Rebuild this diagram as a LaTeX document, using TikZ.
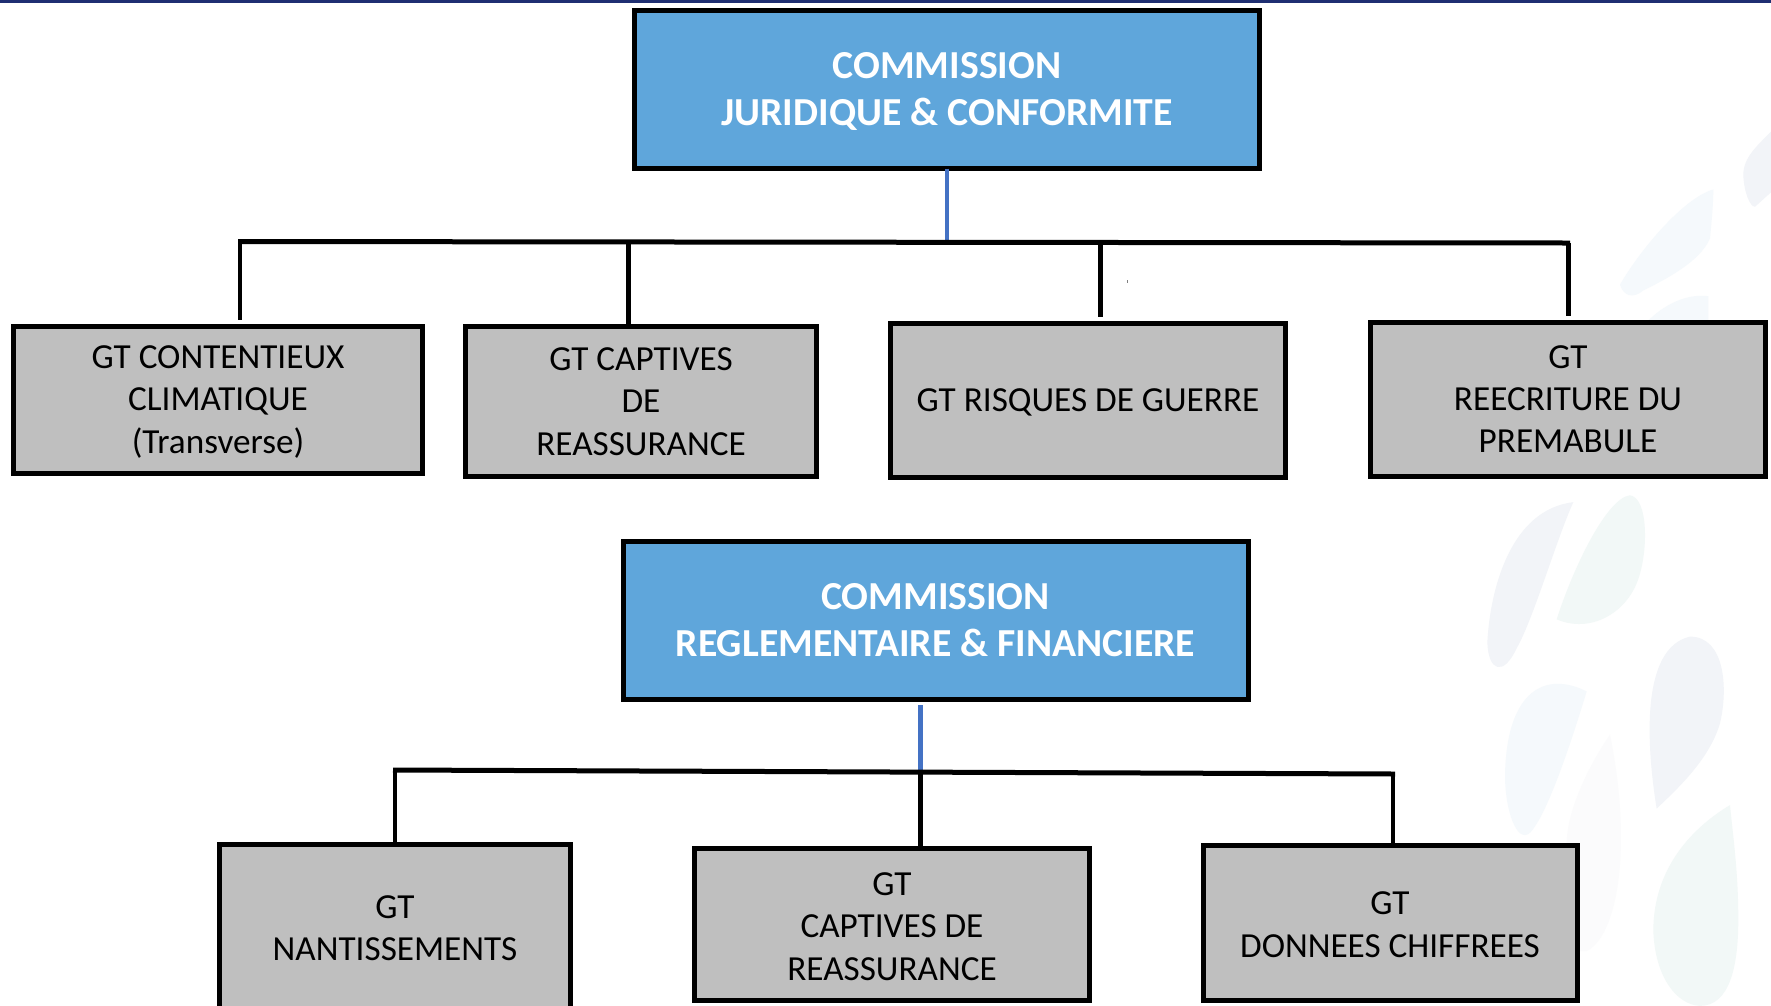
\documentclass[tikz,border=0pt]{standalone}
\usepackage{fontspec}
\setmainfont{Carlito}
\definecolor{commfill}{HTML}{5FA6DB}
\definecolor{gtfill}{HTML}{BFBFBF}
\definecolor{stemblue}{HTML}{4472C4}
\definecolor{barblue}{HTML}{1F2F72}
\definecolor{dropA}{HTML}{F2F4F8}
\definecolor{dropB}{HTML}{F2F8F7}
\definecolor{dropC}{HTML}{F5F9FC}
\definecolor{dropD}{HTML}{FBFBFC}
\def\textdy{0pt}
\newcommand{\tstrut}{\rule{0pt}{\dimexpr0.95em+2\dimexpr\textdy\relax\relax}}
\newcommand{\bstrut}{\rule[-0.3em]{0pt}{0.3em}}
\tikzset{
  tdy/.code={\def\textdy{#1}},
  commbox/.style={draw=black,fill=commfill,line width=5pt,rectangle,outer sep=0pt,inner sep=0pt,align=center,text=white,font=\fontsize{39.7}{47}\selectfont\bfseries},
  gtbox/.style={draw=black,fill=gtfill,line width=5pt,rectangle,outer sep=0pt,inner sep=0pt,align=center,text=black,font=\fontsize{35.2}{42.3}\selectfont},
  bus/.style={draw=black,line width=5pt},
  stemblack/.style={draw=black,line width=4.5pt},
  stem/.style={draw=stemblue,line width=4.5pt},
}
\begin{document}
\begin{tikzpicture}[x=1pt,y=-1pt]
\useasboundingbox (0,0) rectangle (1771,1005);
\clip (0,0) rectangle (1771,1005);
\fill[white] (0,0) rectangle (1771,1005);
\fill[barblue] (0,0) rectangle (1771,3);
% watermark drops
\begin{scope}[shift={(1400pt,-100pt)},x=0.3333pt,y=-0.577pt]
\fill[dropA] (1113,55) .. controls (1070,80) and (1030,100) .. (1030,130) .. controls (1032,160) and (1050,185) .. (1065,185) -- (1113,160) -- cycle;
\fill[dropC] (940,155) .. controls (850,170) and (720,260) .. (660,320) .. controls (670,340) and (700,345) .. (730,330) .. controls (800,310) and (900,280) .. (930,240) .. controls (935,210) and (940,180) .. (940,155) -- cycle;
\fill[dropC] (925,340) .. controls (860,335) and (790,355) .. (740,385) -- (925,385) -- cycle;
\fill[dropA] (520,697) .. controls (330,710) and (270,850) .. (262,940) .. controls (265,990) and (310,1000) .. (350,950) .. controls (400,900) and (470,760) .. (520,697) -- cycle;
\fill[dropB] (470,900) .. controls (520,810) and (620,690) .. (690,685) .. controls (745,690) and (745,780) .. (715,830) .. controls (680,890) and (570,925) .. (470,900) -- cycle;
\fill[dropD] (630,1100) .. controls (570,1150) and (500,1230) .. (500,1290) -- (500,1475) -- (560,1475) .. controls (650,1450) and (700,1300) .. (630,1100) -- cycle;
\fill[dropC] (560,1025) .. controls (440,990) and (320,1020) .. (315,1170) .. controls (315,1230) and (350,1290) .. (390,1270) .. controls (440,1240) and (510,1120) .. (560,1025) -- cycle;
\fill[dropA] (770,1228) .. controls (740,1120) and (720,950) .. (870,930) .. controls (975,930) and (985,1020) .. (960,1080) .. controls (930,1140) and (840,1190) .. (770,1228) -- cycle;
\fill[dropB] (990,1222) .. controls (880,1260) and (760,1330) .. (760,1440) .. controls (765,1520) and (830,1568) .. (900,1570) .. controls (990,1570) and (1015,1500) .. (1015,1420) .. controls (1015,1340) and (1000,1280) .. (990,1222) -- cycle;
\end{scope}
% upper group nodes
\node[commbox,minimum width=625pt,minimum height=158pt] (c1) at (947,89.5) {\tstrut COMMISSION\\JURIDIQUE \& CONFORMITE\bstrut};
\node[gtbox,minimum width=409pt,minimum height=147pt] (a) at (218,399.5) {\tstrut GT CONTENTIEUX\\CLIMATIQUE\\(Transverse)\bstrut};
\node[gtbox,minimum width=351pt,minimum height=150pt] (b) at (641,401.5) {\tstrut GT CAPTIVES\\DE\\REASSURANCE\bstrut};
\node[gtbox,minimum width=395pt,minimum height=154pt] (d) at (1088,400.5) {\tstrut GT RISQUES DE GUERRE\bstrut};
\node[gtbox,minimum width=395pt,minimum height=154pt] (e) at (1568,399) {\tstrut GT\\REECRITURE DU\\PREMABULE\bstrut};
% lower group nodes
\node[commbox,minimum width=625pt,minimum height=158pt] (c2) at (935.5,620) {\tstrut COMMISSION\\REGLEMENTAIRE \& FINANCIERE\bstrut};
\node[gtbox,minimum width=351pt,minimum height=168pt] (f) at (395,928) {\tstrut GT\\NANTISSEMENTS\bstrut};
\node[gtbox,tdy=2pt,minimum width=395pt,minimum height=152pt] (g) at (892,924.5) {\tstrut GT\\CAPTIVES DE\\REASSURANCE\bstrut};
\node[gtbox,tdy=1.5pt,minimum width=374pt,minimum height=155pt] (h) at (1390,923) {\tstrut GT\\DONNEES CHIFFREES\bstrut};
% upper connectors
\coordinate (busAL) at (238,241.5);
\coordinate (busAR) at (1570,243);
\coordinate (busAm) at (947,242);
\coordinate (tA) at (240,319.5);
\coordinate (sA) at (240,242);
\coordinate (sB) at (628.5,242);
\coordinate (sD) at (1100,242);
\coordinate (tD) at (1100,317);
\coordinate (sE) at (1568,243);
\coordinate (tE) at (1568,316);
\coordinate (tB) at (628.5,326);
\draw[stem] (c1.south) -- (busAm);
\draw[bus] (busAL) -- (busAR);
\draw[stemblack] (sA) -- (tA);
\draw[stemblack] (sB) -- (tB);
\draw[stemblack,line width=5pt] (sD) -- (tD);
\draw[stemblack,line width=5pt] (sE) -- (tE);
\fill[gray] (1127.3,279.5) rectangle (1128.3,282.5);
% lower connectors
\coordinate (busBL) at (393,770);
\coordinate (busBR) at (1395,774);
\coordinate (stemTop) at (920.5,705);
\coordinate (busBm) at (920.5,771);
\coordinate (sF) at (395,770);
\coordinate (tF) at (395,845);
\coordinate (sG) at (920.5,772);
\coordinate (tG) at (920.5,848);
\coordinate (sH) at (1393,774);
\coordinate (tH) at (1393,845);
\draw[stem] (stemTop) -- (busBm);
\draw[bus] (busBL) -- (busBR);
\draw[stemblack] (sF) -- (tF);
\draw[stemblack] (sG) -- (tG);
\draw[stemblack] (sH) -- (tH);
\end{tikzpicture}
\end{document}
